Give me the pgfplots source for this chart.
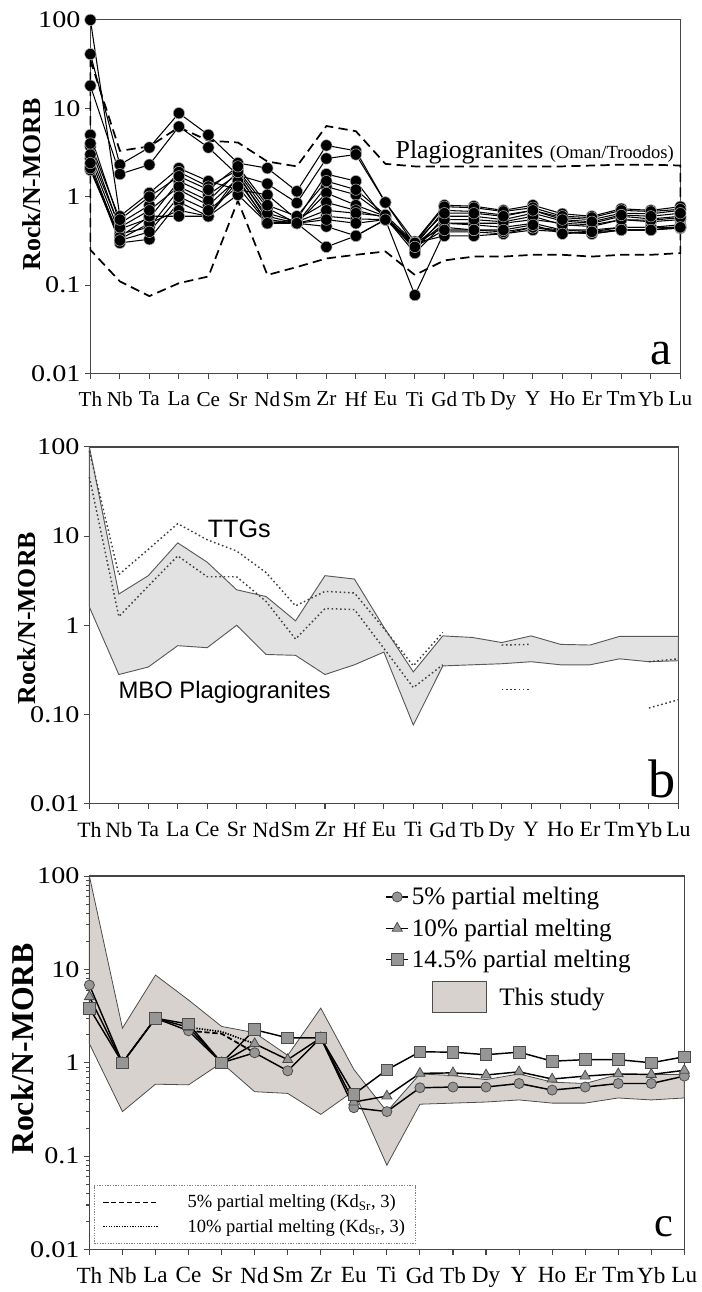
\documentclass[border=0pt]{standalone}
\usepackage{fontspec}
\setmainfont{Liberation Serif}
\newfontfamily\ytickfont[FakeStretch=1.18]{Liberation Serif}
\newfontfamily\sansf{Liberation Sans}
\usepackage{pgfplots}
\pgfplotsset{compat=1.18}
\usepackage{pgfplotstable}

\definecolor{framegray}{RGB}{70,70,70}
\definecolor{bandb}{RGB}{226,226,226}
\definecolor{bandc}{RGB}{216,210,207}
\definecolor{markgray}{RGB}{150,150,150}

% panel a: samples, Th Nb Ta La Ce Sr Nd Sm Zr Hf Eu Ti Gd Tb Dy Y Ho Er Tm Yb Lu
\pgfplotstableread{
x  s1   s2   s3   s4   s5   s6   s7    s8   s9   s10  s11  s12
0  41   18   100  5    3.7  2.7  2.2   2.0  2.1  3.0  4.0  2.4
1  2.3  1.8  0.6  0.5  0.43 0.38 0.30  0.33 0.35 0.45 0.55 0.32
2  3.6  2.3  1.1  0.8  0.57 0.45 0.33  0.5  0.6  0.7  1.0  0.4
3  8.8  6.2  2.1  1.9  1.5  1.2  0.87  0.7  0.6  1.3  1.7  1.0
4  5.0  3.6  1.5  1.3  1.05 0.8  0.6   0.6  0.6  0.9  1.2  0.7
5  2.4  1.75 1.2  2.0  1.8  1.6  1.05  1.7  1.5  1.9  2.2  1.3
6  2.1  1.4  1.05 0.74 0.55 0.5  0.5   0.6  0.52 0.65 0.8  0.5
7  1.15 0.85 0.55 0.5  0.5  0.55 0.5   0.5  0.5  0.52 0.6  0.5
8  3.8  2.7  1.8  1.3  1.1  0.86 0.6   0.46 0.27 0.7  1.5  0.55
9  3.3  3.0  1.5  1.05 0.8  0.7  0.56  0.36 0.36 0.65 1.2  0.5
10 0.86 0.86 0.55 0.6  0.6  0.58 0.55  0.55 0.55 0.6  0.62 0.55
11 0.31 0.28 0.30 0.25 0.27 0.23 0.077 0.30 0.30 0.28 0.30 0.27
12 0.8  0.7  0.77 0.6  0.5  0.5  0.4   0.36 0.45 0.55 0.65 0.42
13 0.78 0.68 0.75 0.6  0.5  0.48 0.4   0.36 0.42 0.55 0.65 0.42
14 0.7  0.62 0.68 0.55 0.5  0.45 0.38  0.38 0.4  0.52 0.6  0.42
15 0.8  0.7  0.75 0.65 0.55 0.5  0.42  0.45 0.45 0.6  0.7  0.48
16 0.64 0.58 0.6  0.53 0.5  0.42 0.4   0.4  0.42 0.48 0.55 0.38
17 0.6  0.55 0.58 0.5  0.48 0.42 0.38  0.38 0.4  0.46 0.52 0.4
18 0.73 0.65 0.7  0.6  0.55 0.45 0.42  0.42 0.45 0.55 0.62 0.42
19 0.7  0.64 0.68 0.56 0.52 0.45 0.42  0.42 0.45 0.54 0.6  0.42
20 0.77 0.7  0.72 0.6  0.55 0.48 0.46  0.44 0.45 0.58 0.65 0.45
}\tabA

% panel c: Th Nb La Ce Sr Nd Sm Zr Eu Ti Gd Tb Dy Y Ho Er Tm Yb Lu
\pgfplotstableread{
x  p5   p10  p145
0  6.8  5.1  3.85
1  1.0  1.0  1.0
2  3.0  3.0  3.0
3  2.2  2.4  2.6
4  1.0  1.0  1.0
5  1.28 1.6  2.26
6  0.82 1.08 1.85
7  1.85 1.85 1.85
8  0.33 0.38 0.46
9  0.3  0.44 0.84
10 0.54 0.77 1.31
11 0.55 0.78 1.3
12 0.55 0.74 1.22
13 0.6  0.8  1.3
14 0.51 0.67 1.04
15 0.55 0.72 1.08
16 0.6  0.76 1.08
17 0.6  0.75 1.0
18 0.72 0.83 1.16
}\tabC

\pgfplotsset{
  mbospider/.style={
    scale only axis, clip=false,
    ytick={0.01,0.1,1,10,100},
    tick pos=left, tick align=outside,
    major tick length=4pt, minor tick length=2.5pt,
    axis line style={framegray, line width=0.9pt},
    tick style={framegray, line width=0.8pt},
    yticklabel style={font=\ytickfont\fontsize{18}{20}\selectfont},
    ylabel={Rock/N-MORB},
  },
}
\tikzset{mbosample/.style={black, line width=0.8pt, mark=*, mark size=4.3pt,
    mark options={fill=black, draw=gray!60, line width=0.4pt}}}

\begin{document}
\begin{tikzpicture}
\path (0pt,0pt) rectangle (528pt,-969pt);

% ---------------- panel a
\begin{axis}[mbospider, ymode=log, ymin=0.01, ymax=100,
  at={(68.25pt,-15pt)}, anchor=north west,
  width=445.5pt, height=267pt, xmin=0, xmax=20, xtick={0,...,20},
  xticklabels={Th,Nb,Ta,La,Ce,Sr,Nd,Sm,Zr,Hf,Eu,Ti,Gd,Tb,Dy,Y,Ho,Er,Tm,Yb,Lu},
  yticklabels={0.01,0.1,1,10,100}, yminorticks=false,
  xticklabel style={font=\fontsize{16}{18}\selectfont, yshift=-6.5pt},
  ylabel style={at={(axis description cs:-0.1,0.535)}, anchor=center,
    font=\bfseries\fontsize{19.5}{22}\selectfont}]
\addplot[black, line width=1.3pt, dash pattern=on 7pt off 4pt] coordinates {
  (0,35) (1,3.3) (2,3.7) (3,6.1) (4,4.3) (5,4.1) (6,2.5) (7,2.2) (8,6.3) (9,5.5)
  (10,2.35) (11,2.2) (12,2.2) (13,2.2) (14,2.2) (15,2.2) (16,2.2) (17,2.25) (18,2.3) (19,2.3) (20,2.25)
  (20,0.23) (19,0.22) (18,0.22) (17,0.21) (16,0.22) (15,0.22) (14,0.21) (13,0.21) (12,0.19) (11,0.13)
  (10,0.24) (9,0.22) (8,0.2) (7,0.16) (6,0.13) (5,0.9) (4,0.125) (3,0.105) (2,0.075) (1,0.11) (0,0.25)
  (0,35)
};
\pgfplotsinvokeforeach{1,...,12}{
  \addplot[mbosample] table[x=x, y=s#1] {\tabA};
}
\node[anchor=base west, inner sep=0pt] at (axis cs:10.34,2.67)
  {\fontsize{19.5}{22}\selectfont Plagiogranites \fontsize{14}{16}\selectfont(Oman/Troodos)};
\node[anchor=base east, inner sep=0pt] at (axis cs:19.73,0.0126) {\fontsize{36}{40}\selectfont a};
\end{axis}

% ---------------- panel b
\begin{axis}[mbospider, ymode=log, ymin=0.01, ymax=100,
  at={(67.5pt,-337.5pt)}, anchor=north west,
  width=444.75pt, height=269.25pt, xmin=0, xmax=20, xtick={0,...,20},
  xticklabels={Th,Nb,Ta,La,Ce,Sr,Nd,Sm,Zr,Hf,Eu,Ti,Gd,Tb,Dy,Y,Ho,Er,Tm,Yb,Lu},
  yticklabels={0.01,0.10,1,10,100}, yminorticks=false,
  xticklabel style={font=\fontsize{16.5}{18}\selectfont, yshift=-6.5pt},
  ylabel style={at={(axis description cs:-0.106,0.52)}, anchor=center,
    font=\bfseries\fontsize{19.5}{22}\selectfont}]
\addplot[draw=gray!70!black, line width=0.7pt, fill=bandb] coordinates {
  (0,100) (1,2.24) (2,3.6) (3,8.4) (4,5.1) (5,2.5) (6,2.1) (7,1.12) (8,3.6) (9,3.3)
  (10,0.95) (11,0.3) (12,0.76) (13,0.73) (14,0.64) (15,0.76) (16,0.61) (17,0.6) (18,0.75) (19,0.75) (20,0.75)
  (20,0.4) (19,0.39) (18,0.42) (17,0.36) (16,0.36) (15,0.39) (14,0.37) (13,0.36) (12,0.35) (11,0.076)
  (10,0.5) (9,0.36) (8,0.28) (7,0.46) (6,0.47) (5,1.0) (4,0.56) (3,0.59) (2,0.34) (1,0.28) (0,1.6)
  (0,100)
};
\addplot[gray!50!black, line width=1.1pt, dash pattern=on 1.2pt off 2pt] coordinates {
  (0,90) (1,3.7) (2,7.1) (3,13.8) (4,9.1) (5,6.8) (6,3.9) (7,1.65) (8,2.4) (9,2.3) (10,0.92) (11,0.35) (12,0.83)};
\addplot[gray!50!black, line width=1.1pt, dash pattern=on 1.2pt off 2pt] coordinates {
  (0,46) (1,1.25) (2,2.75) (3,6.0) (4,3.5) (5,3.5) (6,1.85) (7,0.7) (8,1.54) (9,1.5) (10,0.55) (11,0.2) (12,0.36)};
\addplot[gray!50!black, line width=1.1pt, dash pattern=on 1.2pt off 2pt] coordinates {(14,0.6) (15,0.61)};
\addplot[gray!50!black, line width=1.1pt, dash pattern=on 1.2pt off 2pt] coordinates {(14,0.19) (15,0.19)};
\addplot[gray!50!black, line width=1.1pt, dash pattern=on 1.2pt off 2pt] coordinates {(19,0.39) (20,0.42)};
\addplot[gray!50!black, line width=1.1pt, dash pattern=on 1.2pt off 2pt] coordinates {(19,0.118) (20,0.146)};
\node at (axis cs:5.09,12.2) {\sansf\fontsize{19}{22}\selectfont TTGs};
\node at (axis cs:4.59,0.177) {\sansf\fontsize{18}{22}\selectfont MBO Plagiogranites};
\node[anchor=base east, inner sep=0pt] at (axis cs:19.9,0.0117) {\fontsize{41}{44}\selectfont b};
\end{axis}

% ---------------- panel c (back: frame, band, Kd lines)
\begin{axis}[mbospider, ymode=log, ymin=0.01, ymax=100,
  minor ytick={0.02,0.03,0.04,0.05,0.06,0.07,0.08,0.09,0.2,0.3,0.4,0.5,0.6,0.7,0.8,0.9,
    2,3,4,5,6,7,8,9,20,30,40,50,60,70,80,90},
  at={(67.5pt,-661.5pt)}, anchor=north west,
  width=449.25pt, height=282pt, xmin=0, xmax=18, xtick={0,...,18},
  xticklabels={Th,Nb,La,Ce,Sr,Nd,Sm,Zr,Eu,Ti,Gd,Tb,Dy,Y,Ho,Er,Tm,Yb,Lu},
  yticklabels={0.01,0.1,1,10,100},
  xticklabel style={font=\fontsize{17.5}{19}\selectfont, yshift=-6pt},
  ylabel style={at={(axis description cs:-0.112,0.537)}, anchor=center,
    font=\bfseries\fontsize{24}{26}\selectfont},
  legend image code/.code={\draw[#1] (12pt,0pt) -- (53pt,0pt);},
  legend style={at={(axis description cs:0.008,0.016)}, anchor=south west,
    draw=gray, dash pattern=on 1pt off 1pt, fill=white,
    font=\fontsize{14}{16}\selectfont, inner xsep=6pt, inner ysep=5pt, row sep=3pt,
    /tikz/every odd column/.append style={column sep=20pt}},
  legend cell align=left]
\addplot[draw=gray!60!black, line width=0.6pt, fill=bandc, forget plot] coordinates {
  (0,100) (1,2.35) (2,8.7) (3,4.7) (4,2.45) (5,2.1) (6,1.2) (7,3.85) (8,0.85) (9,0.3)
  (10,0.76) (11,0.73) (12,0.66) (13,0.76) (14,0.62) (15,0.6) (16,0.75) (17,0.75) (18,0.75)
  (18,0.42) (17,0.4) (16,0.42) (15,0.37) (14,0.37) (13,0.4) (12,0.38) (11,0.37) (10,0.36) (9,0.08)
  (8,0.5) (7,0.28) (6,0.47) (5,0.49) (4,1.0) (3,0.58) (2,0.59) (1,0.3) (0,1.6)
  (0,100)
};
\addplot[black, line width=1.3pt, dash pattern=on 4pt off 2pt] coordinates {(3,2.2) (4,2.05) (5,1.28)};
\addlegendentry{5\% partial melting (Kd\textsubscript{Sr}, 3)}
\addplot[black, line width=1.3pt, dash pattern=on 1pt off 1pt] coordinates {(3,2.4) (4,2.15) (5,1.6)};
\addlegendentry{10\% partial melting (Kd\textsubscript{Sr}, 3)}
\node[anchor=base east, inner sep=0pt] at (axis cs:17.67,0.0137) {\fontsize{32}{36}\selectfont c};
\end{axis}

% ---------------- panel c (front: model curves)
\begin{axis}[scale only axis, hide axis, clip=false, at={(67.5pt,-661.5pt)}, anchor=north west,
  width=449.25pt, height=282pt, xmin=0, xmax=18, ymode=log, ymin=0.01, ymax=100,
  legend style={at={(axis description cs:0.49,0.985)}, anchor=north west,
    draw=none, fill=none, font=\fontsize{19}{21}\selectfont, row sep=5pt},
  legend cell align=left]
\addplot[black, line width=1.1pt, mark=*, mark size=3.8pt,
  mark options={fill=markgray, draw=black!70, line width=0.6pt}] table[x=x, y=p5] {\tabC};
\addlegendentry{5\% partial melting}
\addplot[black, line width=1.1pt, mark=triangle*, mark size=4.4pt,
  mark options={fill=markgray, draw=black!70, line width=0.6pt}] table[x=x, y=p10] {\tabC};
\addlegendentry{10\% partial melting}
\addplot[black, line width=1.1pt, mark=square*, mark size=4.4pt,
  mark options={fill=markgray, draw=black!70, line width=0.6pt}] table[x=x, y=p145] {\tabC};
\addlegendentry{14.5\% partial melting}
\addlegendimage{empty legend}
\addlegendentry{\hspace*{15pt}{\setlength\fboxrule{0.7pt}\fcolorbox{gray!60!black}{bandc}{\rule[-2pt]{0pt}{16.6pt}\hspace*{34.6pt}}}\hspace*{9pt}This study}
\end{axis}
\end{tikzpicture}
\end{document}
